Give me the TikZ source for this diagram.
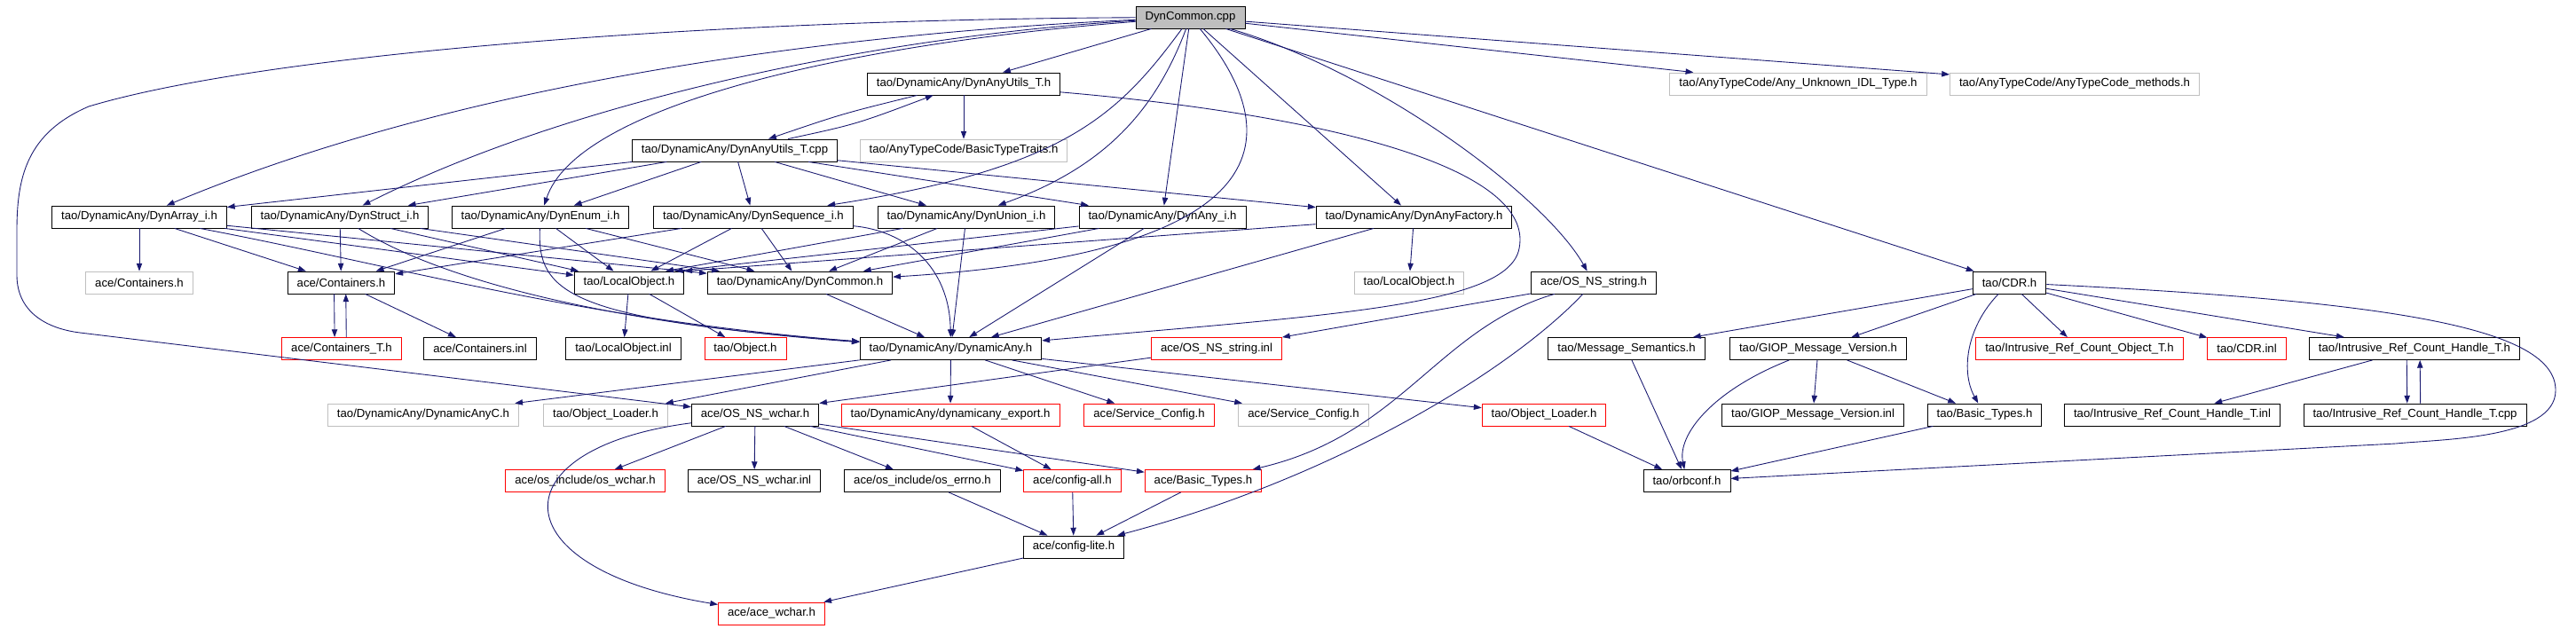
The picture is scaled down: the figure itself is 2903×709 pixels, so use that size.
\documentclass[tikz,border=0pt]{standalone}
\usepackage{fontspec}
\setmainfont{Liberation Sans}
\usetikzlibrary{arrows.meta}

\definecolor{edgeblue}{HTML}{191970}
\definecolor{nodocgray}{HTML}{BFBFBF}

\tikzset{
  file/.style={draw, line width=0.5pt, inner xsep=6pt, inner ysep=0pt,
    minimum height=0.5cm, font=\fontsize{7.5}{9}\selectfont},
  filegray/.style={file, draw=nodocgray},
  filered/.style={file, draw=red},
  fileroot/.style={file, fill=nodocgray},
  incl/.style={draw=edgeblue, line width=0.5pt, -{Triangle[length=5pt,width=3.6pt]}},
}

\begin{document}
\begin{tikzpicture}[x=0.02cm, y=-0.02cm]
        \useasboundingbox (0,0) rectangle (2903,709);

        % Root.
        \node[fileroot] (root) at (1341.5,19.5) {DynCommon.cpp};
        % Row 1.
        \node[file] (utilsh) at (1086,94.5) {tao/DynamicAny/DynAnyUtils\_T.h};
        \node[filegray] (unknown) at (2026.5,94.5) {tao/AnyTypeCode/Any\_Unknown\_IDL\_Type.h};
        \node[filegray] (methods) at (2338,94.5) {tao/AnyTypeCode/AnyTypeCode\_methods.h};
        % Row 2.
        \node[file] (utilscpp) at (828,169.5) {tao/DynamicAny/DynAnyUtils\_T.cpp};
        \node[filegray] (traits) at (1086,169.5) {tao/AnyTypeCode/BasicTypeTraits.h};
        % Row 3.
        \node[file] (array) at (157,244.5) {tao/DynamicAny/DynArray\_i.h};
        \node[file] (struct) at (383,244.5) {tao/DynamicAny/DynStruct\_i.h};
        \node[file] (enum) at (609,244.5) {tao/DynamicAny/DynEnum\_i.h};
        \node[file] (seq) at (849,244.5) {tao/DynamicAny/DynSequence\_i.h};
        \node[file] (union) at (1089,244.5) {tao/DynamicAny/DynUnion\_i.h};
        \node[file] (anyi) at (1310,244.5) {tao/DynamicAny/DynAny\_i.h};
        \node[file] (factory) at (1593.5,244.5) {tao/DynamicAny/DynAnyFactory.h};
        % Row 4.
        \node[filegray] (contg) at (157,318.5) {ace/Containers.h};
        \node[file] (cont) at (384.5,318.5) {ace/Containers.h};
        \node[file] (local) at (709,318.5) {tao/LocalObject.h};
        \node[file] (commonh) at (901.5,318.5) {tao/DynamicAny/DynCommon.h};
        \node[filegray] (localg) at (1588,318.5) {tao/LocalObject.h};
        \node[file] (string) at (1796,318.5) {ace/OS\_NS\_string.h};
        \node[file] (cdr) at (2264.5,318.5) {tao/CDR.h};
        % Row 5.
        \node[filered] (contt) at (385,393) {ace/Containers\_T.h};
        \node[file] (continl) at (541,393) {ace/Containers.inl};
        \node[file] (localinl) at (702.5,393) {tao/LocalObject.inl};
        \node[filered] (object) at (840,393) {tao/Object.h};
        \node[file] (dynany) at (1071.5,393) {tao/DynamicAny/DynamicAny.h};
        \node[filered] (stringinl) at (1371,393) {ace/OS\_NS\_string.inl};
        \node[file] (semantics) at (1833,393) {tao/Message\_Semantics.h};
        \node[file] (giop) at (2049,393) {tao/GIOP\_Message\_Version.h};
        \node[filered] (refobj) at (2343.5,393) {tao/Intrusive\_Ref\_Count\_Object\_T.h};
        \node[filered] (cdrinl) at (2532,393) {tao/CDR.inl};
        \node[file] (handleh) at (2721,393) {tao/Intrusive\_Ref\_Count\_Handle\_T.h};
        % Row 6.
        \node[filegray] (anyc) at (477,467.5) {tao/DynamicAny/DynamicAnyC.h};
        \node[filegray] (loaderg) at (682.5,467.5) {tao/Object\_Loader.h};
        \node[file] (wchar) at (851,467.5) {ace/OS\_NS\_wchar.h};
        \node[filered] (export) at (1071,467.5) {tao/DynamicAny/dynamicany\_export.h};
        \node[filered] (svc) at (1295,467.5) {ace/Service\_Config.h};
        \node[filegray] (svcg) at (1469,467.5) {ace/Service\_Config.h};
        \node[filered] (loader) at (1740,467.5) {tao/Object\_Loader.h};
        \node[file] (giopinl) at (2043,467.5) {tao/GIOP\_Message\_Version.inl};
        \node[file] (taobasic) at (2236.5,467.5) {tao/Basic\_Types.h};
        \node[file] (handleinl) at (2448,467.5) {tao/Intrusive\_Ref\_Count\_Handle\_T.inl};
        \node[file] (handlecpp) at (2721.5,467.5) {tao/Intrusive\_Ref\_Count\_Handle\_T.cpp};
        % Row 7.
        \node[filered] (oswchar) at (659.5,542) {ace/os\_include/os\_wchar.h};
        \node[file] (wcharinl) at (850,542) {ace/OS\_NS\_wchar.inl};
        \node[file] (errno) at (1039.5,542) {ace/os\_include/os\_errno.h};
        \node[filered] (configall) at (1208.5,542) {ace/config-all.h};
        \node[filered] (acebasic) at (1356,542) {ace/Basic\_Types.h};
        \node[file] (orbconf) at (1901,542) {tao/orbconf.h};
        % Rows 8 and 9.
        \node[file] (configlite) at (1210,616.5) {ace/config-lite.h};
        \node[filered] (acewchar) at (869.5,691.5) {ace/ace\_wchar.h};

        % Straight includes.
        \foreach \a/\b in {root/utilsh, root/unknown, root/methods, root/anyi, root/factory, root/cdr,
            utilsh/traits, utilscpp/array, utilscpp/struct, utilscpp/enum, utilscpp/seq,
            utilscpp/union, utilscpp/anyi, utilscpp/factory,
            array/contg, array/cont, array/local, array/commonh,
            struct/cont, struct/local, struct/commonh,
            enum/cont, enum/local, enum/commonh,
            seq/cont, seq/local, seq/commonh,
            union/commonh, union/dynany, anyi/commonh, anyi/dynany,
            factory/localg, factory/dynany, commonh/dynany,
            cont/continl, local/localinl, local/object, string/stringinl,
            dynany/anyc, dynany/loaderg, dynany/export, dynany/svc, dynany/svcg, dynany/loader,
            wchar/oswchar, wchar/wcharinl, wchar/errno, wchar/configall, wchar/acebasic,
            export/configall, errno/configlite, configall/configlite, acebasic/configlite,
            configlite/acewchar, loader/orbconf,
            cdr/semantics, cdr/giop, cdr/refobj, cdr/cdrinl, cdr/handleh,
            semantics/orbconf, giop/giopinl, giop/taobasic, handleh/handleinl, taobasic/orbconf}
            {\draw[incl] (\a) -- (\b);}

        % Into corners.
        \draw[incl] (union) -- ([xshift=-12pt]local.north east);
        \draw[incl] (anyi) -- ([xshift=-6pt]local.north east);
        \draw[incl] (factory) -- (local.north east);
        \draw[incl] (stringinl) -- (wchar.north east);

        % Pairs.
        \draw[incl] (utilsh) .. controls (950,128) .. (utilscpp);
        \draw[incl] (utilscpp) .. controls (965,140) .. (utilsh);
        \draw[incl] ([xshift=-4.5pt]cont.south) -- ([xshift=-4.5pt]contt.north);
        \draw[incl] ([xshift=3pt]contt.north) -- ([xshift=3pt]cont.south);
        \draw[incl] ([xshift=-5pt]handleh.south) -- ([xshift=-5pt]handlecpp.north);
        \draw[incl] ([xshift=3.5pt]handlecpp.north) -- ([xshift=3.5pt]handleh.south);

        % Curved includes.
        \draw[incl] (root) .. controls (1000,35) and (550,80) .. (array);
        \draw[incl] (root) .. controls (1000,40) and (650,110) .. (struct);
        \draw[incl] (root) .. controls (950,50) and (650,120) .. (enum);
        \draw[incl] (root) .. controls (1260,130) and (1200,190) .. (seq);
        \draw[incl] (root) .. controls (1300,130) and (1240,190) .. (union);
        \draw[incl] (root) .. controls (1450,150) and (1450,285) .. (commonh);
        \draw[incl] (root) .. controls (1550,80) and (1740,220) .. (string);
        \draw[incl] (root) .. controls (800,22) and (300,60) .. (100,120)
            .. controls (30,150) and (19,200) .. (19,260) -- (19,310)
            .. controls (19,350) and (50,370) .. (90,375) -- (wchar);
        \draw[incl] (utilsh) .. controls (1500,130) and (1730,190) .. (1712,280)
            .. controls (1700,345) and (1500,355) .. (dynany);
        \draw[incl] (array) .. controls (450,300) and (650,360) .. (dynany);
        \draw[incl] (struct) .. controls (520,330) and (750,370) .. (dynany);
        \draw[incl] (enum) .. controls (605,330) and (640,360) .. (dynany);
        \draw[incl] (seq) .. controls (1020,260) and (1070,300) .. (dynany);
        \draw[incl] (wchar) .. controls (560,505) and (560,640) .. (acewchar);
        \draw[incl] (string) .. controls (1620,370) and (1580,490) .. (acebasic);
        \draw[incl] (string) .. controls (1700,420) and (1500,540) .. (configlite);
        \draw[incl] (cdr) .. controls (2215,370) and (2210,420) .. (taobasic);
        \draw[incl] (giop) .. controls (1930,440) and (1890,490) .. (orbconf);
        \draw[incl] (cdr) .. controls (2700,340) and (2880,370) .. (2880,440)
            .. controls (2880,495) and (2750,495) .. (2700,500) -- (orbconf);
    \end{tikzpicture}
\end{document}
